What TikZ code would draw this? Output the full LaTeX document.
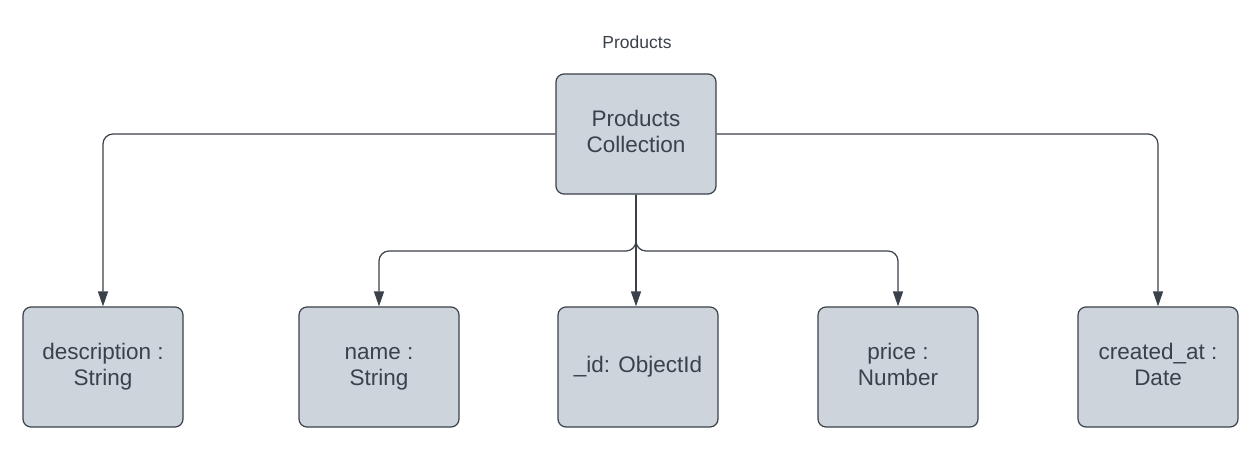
\documentclass[tikz,border=0pt]{standalone}
\usepackage{fontspec}
\setmainfont{Liberation Sans}
\usetikzlibrary{arrows.meta}
\definecolor{boxfill}{HTML}{CED4DC}
\definecolor{ink}{HTML}{3A414A}
\newcommand\fl[1]{\strut#1}
\tikzset{
  field/.style={draw=ink, fill=boxfill, line width=1.2pt, rounded corners=8pt,
    minimum width=160pt, minimum height=120pt, align=center, text=ink,
    font=\fontsize{22.5}{26}\selectfont, inner sep=0pt},
  conn/.style={draw=ink, line width=1.2pt, rounded corners=10pt,
    -{Triangle[length=15pt,width=10pt]}},
  title/.style={text=ink, font=\fontsize{17.5}{20}\selectfont}
}
\begin{document}
\begin{tikzpicture}[x=1pt,y=-1pt]
\useasboundingbox (0,0) rectangle (1258,452);
\node[title] (ttl) at (637,42) {Products};
\node[field] (top) at (636,134) {\fl{Products}\\\fl{Collection}};
\node[field] (desc) at (103,367) {\fl{description :}\\\fl{String}};
\node[field] (name) at (379,367) {\fl{name :}\\\fl{String}};
\node[field] (id) at (638,367) {\fl{\_id: ObjectId}};
\node[field] (price) at (898,367) {\fl{price :}\\\fl{Number}};
\node[field] (cat) at (1158,367) {\fl{created\_at :}\\\fl{Date}};
\coordinate (br) at (636,251);
\draw[conn] (top.west) -| (desc.north);
\draw[conn] (top.east) -| (cat.north);
\draw[conn] (top.south) -- (br) -| (name.north);
\draw[conn] (top.south) -- (br) -| (price.north);
\draw[conn] (top.south) -- (top.south |- id.north);
\end{tikzpicture}
\end{document}
